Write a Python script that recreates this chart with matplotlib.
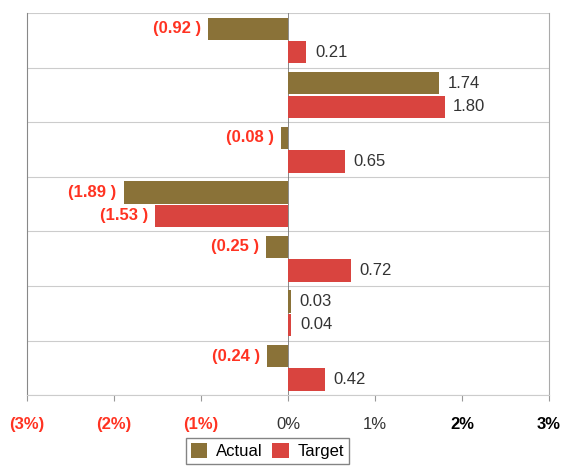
import matplotlib.pyplot as plt
import numpy as np

plt.rcParams['font.family'] = ['Liberation Sans', 'DejaVu Sans']

actual = [-0.92, 1.74, -0.08, -1.89, -0.25, 0.03, -0.24]
target = [0.21, 1.80, 0.65, -1.53, 0.72, 0.04, 0.42]
xticks = [-3, -2, -1, 0, 1, 2, 3]
xtick_labels = ['(3%)', '(2%)', '(1%)', '0%', '1%', '2%', '3%']

col_actual = '#8a7238'
col_target = '#d9443f'
neg_red = '#ff3322'
pos_gray = '#333333'

fig = plt.figure(figsize=(5.63, 4.72), dpi=100)
ax = fig.add_axes([0.048, 0.163, 0.927, 0.809])

n = len(actual)
y = np.arange(n)
h = 0.41
ax.barh(y - h / 2 - 0.01, actual, height=h, color=col_actual, label='Actual', zorder=3)
ax.barh(y + h / 2 + 0.01, target, height=h, color=col_target, label='Target', zorder=3)

def fmt(v):
    return f'({abs(v):.2f} )' if v < 0 else f'{v:.2f}'

for yy, vals in [(y - h / 2 - 0.01, actual), (y + h / 2 + 0.01, target)]:
    for yi, v in zip(yy, vals):
        if v < 0:
            ax.text(v - 0.08, yi, fmt(v), ha='right', va='center', color=neg_red,
                    fontsize=12, fontweight='bold')
        else:
            ax.text(v + 0.1, yi, fmt(v), ha='left', va='center', color=pos_gray, fontsize=12)

ax.set_xlim(-3, 3)
ax.set_ylim(n - 0.5, -0.5)
for b in np.arange(-0.5, n, 1.0):
    ax.axhline(b, color='#cccccc', lw=0.8, zorder=1)
ax.axvline(0, color='#777777', lw=0.6, zorder=2)

ax.set_yticks([])
ax.set_xticks(xticks)
ax.set_xticklabels(xtick_labels, fontsize=12)
for lbl, v in zip(ax.get_xticklabels(), xticks):
    if v < 0:
        lbl.set_color(neg_red)
        lbl.set_fontweight('bold')
    elif v >= 2:
        lbl.set_color('#000000')
        lbl.set_fontweight('bold')
    else:
        lbl.set_color(pos_gray)
ax.tick_params(axis='x', length=4, pad=12, color='#999999')

ax.spines['top'].set_visible(False)
ax.spines['left'].set_color('#888888')
ax.spines['right'].set_color('#aaaaaa')
ax.spines['bottom'].set_color('#cccccc')

ax.legend(loc='upper center', bbox_to_anchor=(0.46, -0.09), ncol=2, fontsize=12,
          frameon=True, fancybox=False, edgecolor='#666666', handlelength=1.0,
          handleheight=1.0, columnspacing=0.6, handletextpad=0.5, borderpad=0.3)

fig.savefig('out.png', dpi=100)
